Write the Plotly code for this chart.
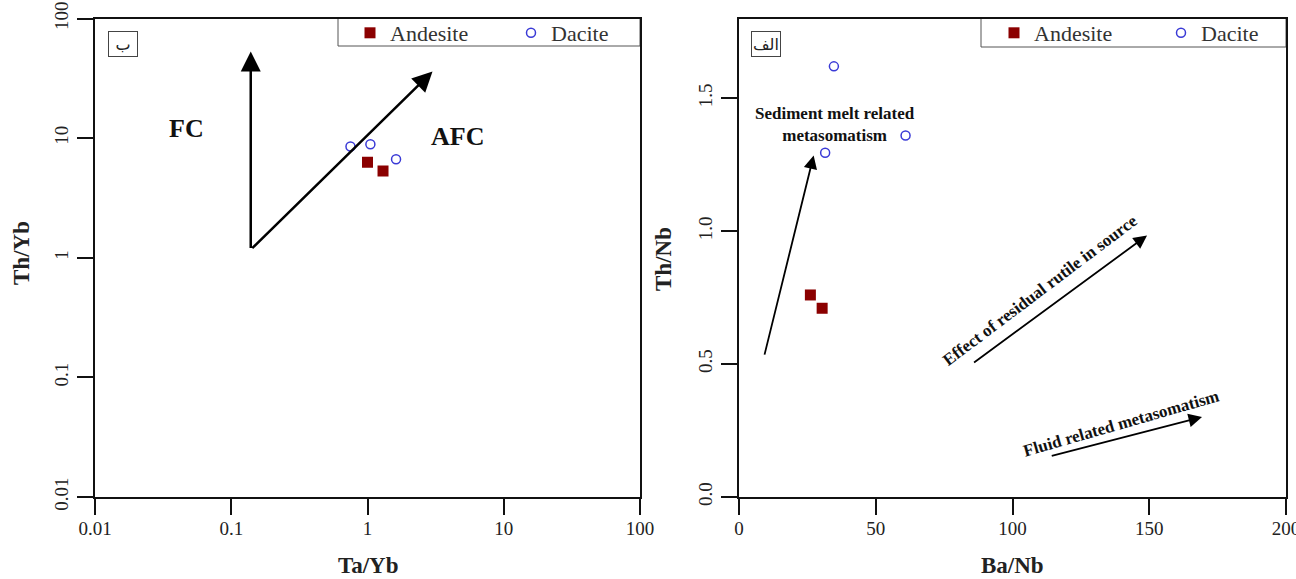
import numpy as np
import plotly.graph_objects as go

# ---------------- data ----------------
# Left panel: Ta/Yb vs Th/Yb (log-log)
andesite_ta_yb = [1.00, 1.30]
andesite_th_yb = [6.3, 5.3]
dacite_ta_yb = [0.75, 1.05, 1.62]
dacite_th_yb = [8.5, 8.9, 6.65]

# Right panel: Ba/Nb vs Th/Nb
andesite_ba_nb = [26.1, 30.4]
andesite_th_nb = [0.76, 0.71]
dacite_ba_nb = [34.7, 60.9, 31.5]
dacite_th_nb = [1.62, 1.36, 1.295]

log_ticks = [0.01, 0.1, 1, 10, 100]
log_tick_labels = ["0.01", "0.1", "1", "10", "100"]
ba_nb_ticks = [0, 50, 100, 150, 200]
ba_nb_tick_labels = ["0", "50", "100", "150", "200"]
th_nb_ticks = [0.0, 0.5, 1.0, 1.5]
th_nb_tick_labels = ["0.0", "0.5", "1.0", "1.5"]

# trend vectors: (tail, head) in data units
fc_vector = [(0.139, 1.17), (0.139, 53.0)]
afc_vector = [(0.139, 1.17), (3.0, 36.0)]
sediment_vector = [(9.2, 0.53), (27.3, 1.285)]
rutile_vector = [(85.4, 0.502), (149.2, 0.984)]
fluid_vector = [(113.8, 0.153), (169.3, 0.301)]

# ---------------- layout constants ----------------
W, H = 1296, 579
SERIF = "Liberation Serif, Times New Roman, serif"
AND_COLOR = "#8b0000"
DAC_COLOR = "#3a3ad6"
AX_COLOR = "#111111"


def px(x):
    return x / W


def py(y):
    return (H - y) / H


fig = go.Figure()

# left panel traces
fig.add_trace(go.Scatter(x=andesite_ta_yb, y=andesite_th_yb, mode="markers", name="Andesite",
                         marker=dict(symbol="square", size=11, color=AND_COLOR),
                         xaxis="x", yaxis="y", legend="legend", legendwidth=116))
fig.add_trace(go.Scatter(x=dacite_ta_yb, y=dacite_th_yb, mode="markers", name="Dacite",
                         marker=dict(symbol="circle-open", size=9, color=DAC_COLOR, line=dict(width=1.5)),
                         xaxis="x", yaxis="y", legend="legend", legendwidth=60))
# right panel traces
fig.add_trace(go.Scatter(x=andesite_ba_nb, y=andesite_th_nb, mode="markers", name="Andesite",
                         marker=dict(symbol="square", size=11, color=AND_COLOR),
                         xaxis="x2", yaxis="y2", legend="legend2", legendwidth=122))
fig.add_trace(go.Scatter(x=dacite_ba_nb, y=dacite_th_nb, mode="markers", name="Dacite",
                         marker=dict(symbol="circle-open", size=9, color=DAC_COLOR, line=dict(width=1.5)),
                         xaxis="x2", yaxis="y2", legend="legend2", legendwidth=60))

axis_common = dict(showline=True, linewidth=2, linecolor=AX_COLOR, mirror=True,
                   ticks="outside", ticklen=16, tickwidth=2, tickcolor=AX_COLOR,
                   showgrid=False, zeroline=False, automargin=False,
                   ticklabeloverflow="allow",
                   tickfont=dict(family=SERIF, size=19, color="#222222"))
xaxis_common = dict(axis_common, ticklabelstandoff=-3)
yaxis_common = dict(axis_common, ticklabelstandoff=1, tickangle=-90)

ydom = [py(497), py(18.5)]

fig.update_layout(
    width=W, height=H,
    margin=dict(l=0, r=0, t=0, b=0),
    paper_bgcolor="white", plot_bgcolor="white",
    font=dict(family=SERIF, color="#111111"),
    xaxis=dict(type="log", range=[-2, 2], domain=[px(95), px(640)], anchor="y",
               tickvals=log_ticks, ticktext=log_tick_labels, **xaxis_common),
    yaxis=dict(type="log", range=[-2, 2], domain=ydom, anchor="x",
               tickvals=log_ticks, ticktext=log_tick_labels, **yaxis_common),
    xaxis2=dict(range=[0, 200], domain=[px(739), px(1286)], anchor="y2",
                tickvals=ba_nb_ticks, ticktext=ba_nb_tick_labels, **xaxis_common),
    yaxis2=dict(range=[0, 1.8], domain=ydom, anchor="x2",
                tickvals=th_nb_ticks, ticktext=th_nb_tick_labels, **yaxis_common),
    legend=dict(orientation="h", x=px(350), xanchor="left", y=py(33), yanchor="middle",
                bgcolor="rgba(0,0,0,0)", borderwidth=0,
                font=dict(family=SERIF, size=22, color="#333333")),
    legend2=dict(orientation="h", x=px(994), xanchor="left", y=py(33), yanchor="middle",
                 bgcolor="rgba(0,0,0,0)", borderwidth=0,
                 font=dict(family=SERIF, size=22, color="#333333")),
)

# legend boxes
for x0, x1, y1 in [(338, 640, 46), (981, 1286, 47)]:
    fig.add_shape(type="rect", xref="paper", yref="paper",
                  x0=px(x0), x1=px(x1), y0=py(y1), y1=py(18.5),
                  line=dict(color="#555555", width=1), fillcolor="rgba(0,0,0,0)", layer="below")

# panel labels
for text, cx in [("ب", 122.5), ("الف", 766)]:
    fig.add_annotation(text=text, xref="paper", yref="paper", x=px(cx), y=py(44),
                       showarrow=False, font=dict(size=16, color="#222222", family="DejaVu Sans"),
                       bordercolor="#444444", borderwidth=1, width=26, height=22,
                       xanchor="center", yanchor="middle")

# axis titles
for text, cx, cy, ang in [("Th/Yb", 22, 253, -90), ("Ta/Yb", 368, 565, 0),
                          ("Th/Nb", 663, 259, -90), ("Ba/Nb", 1012, 565, 0)]:
    fig.add_annotation(text="<b>%s</b>" % text, xref="paper", yref="paper", x=px(cx), y=py(cy),
                       showarrow=False, textangle=ang, font=dict(family=SERIF, size=23, color="#222222"),
                       xanchor="center", yanchor="middle")

# arrows, left panel (log axes -> log10 coordinates)
for (tail, head) in [fc_vector, afc_vector]:
    fig.add_annotation(xref="x", yref="y", axref="x", ayref="y",
                       x=np.log10(head[0]), y=np.log10(head[1]),
                       ax=np.log10(tail[0]), ay=np.log10(tail[1]),
                       text="", showarrow=True, arrowhead=2, arrowsize=1.6,
                       arrowwidth=2.5, arrowcolor="#000000", standoff=0)

# arrows, right panel
for (tail, head) in [sediment_vector, rutile_vector, fluid_vector]:
    fig.add_annotation(xref="x2", yref="y2", axref="x2", ayref="y2",
                       x=head[0], y=head[1], ax=tail[0], ay=tail[1],
                       text="", showarrow=True, arrowhead=2, arrowsize=1.5,
                       arrowwidth=1.8, arrowcolor="#000000", standoff=0)

# text labels
lab_font = dict(family=SERIF, size=26, color="#111111")
fig.add_annotation(text="<b>FC</b>", xref="x", yref="y", x=-1.331, y=1.08,
                   showarrow=False, font=lab_font)
fig.add_annotation(text="<b>AFC</b>", xref="x", yref="y", x=0.662, y=1.013,
                   showarrow=False, font=lab_font)

small_font = dict(family=SERIF, size=17, color="#111111")
fig.add_annotation(text="<b>Sediment melt related<br>metasomatism</b>", xref="x2", yref="y2",
                   x=35.1, y=1.403, showarrow=False, font=small_font, align="center")
fig.add_annotation(text="<b>Effect of residual rutile in source</b>", xref="x2", yref="y2",
                   x=110, y=0.777, showarrow=False, font=small_font, textangle=-37)
fig.add_annotation(text="<b>Fluid related metasomatism</b>", xref="x2", yref="y2",
                   x=139.7, y=0.275, showarrow=False, font=small_font, textangle=-16)

fig.write_html("out.html", config={"displayModeBar": False},
               post_script="document.body.style.margin='0px';")
